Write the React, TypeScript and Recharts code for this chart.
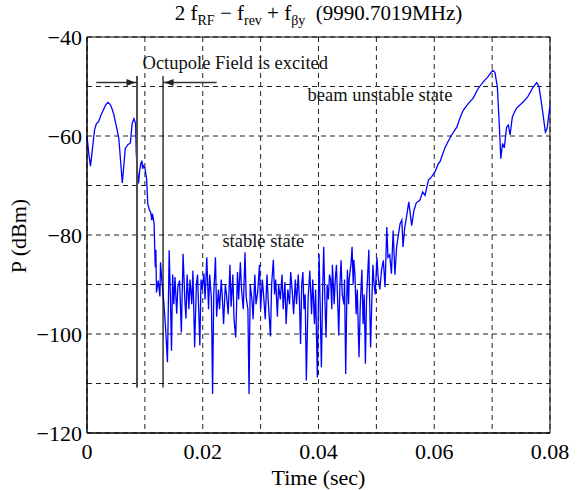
import React from 'react';
import {
  LineChart,
  Line,
  XAxis,
  YAxis,
  CartesianGrid,
  ReferenceArea,
  ReferenceLine,
  ReferenceDot,
  Label,
} from 'recharts';

// time axis (sec)
const timeSec = [
  0.0, 0.0003, 0.0006, 0.0009, 0.0013, 0.0016, 0.0018, 0.002, 0.0024, 0.0028,
  0.0032, 0.0036, 0.004, 0.0042, 0.0046, 0.0051, 0.0055, 0.0058, 0.0061, 0.0064,
  0.0066, 0.0071, 0.0075, 0.0078, 0.0081, 0.0084, 0.0085, 0.0087, 0.0089, 0.0091,
  0.0093, 0.0095, 0.0096, 0.0098, 0.01, 0.0103, 0.0105, 0.0108, 0.011, 0.0112,
  0.0113, 0.0116, 0.0117, 0.0118, 0.0119, 0.012, 0.0123, 0.0126, 0.0127, 0.013,
  0.0133, 0.0136, 0.0139, 0.0142, 0.0144, 0.0146, 0.0148, 0.015, 0.0152, 0.0155,
  0.0157, 0.016, 0.0163, 0.0166, 0.0169, 0.0171, 0.0173, 0.0176, 0.0178, 0.0181,
  0.0183, 0.0186, 0.0189, 0.0191, 0.0195, 0.0197, 0.0199, 0.0202, 0.0204, 0.0207,
  0.021, 0.0212, 0.0215, 0.0217, 0.0219, 0.0222, 0.0224, 0.0227, 0.0229, 0.0232,
  0.0234, 0.0236, 0.0239, 0.0241, 0.0244, 0.0247, 0.0249, 0.0252, 0.0254, 0.0257,
  0.026, 0.0262, 0.0265, 0.0267, 0.027, 0.0273, 0.0275, 0.0278, 0.028, 0.0282,
  0.0285, 0.0287, 0.029, 0.0292, 0.0295, 0.0298, 0.03, 0.0303, 0.0305, 0.0308,
  0.0311, 0.0313, 0.0317, 0.0319, 0.0322, 0.0324, 0.0326, 0.0329, 0.0331, 0.0334,
  0.0337, 0.0339, 0.0342, 0.0344, 0.0347, 0.035, 0.0352, 0.0355, 0.0357, 0.036,
  0.0362, 0.0365, 0.0367, 0.0369, 0.0371, 0.0373, 0.0375, 0.0377, 0.0379, 0.0382,
  0.0385, 0.0388, 0.039, 0.0393, 0.0395, 0.0398, 0.0401, 0.0403, 0.0405, 0.0407,
  0.0409, 0.0411, 0.0413, 0.0415, 0.0417, 0.0419, 0.0421, 0.0423, 0.0424, 0.0426,
  0.0427, 0.0429, 0.0431, 0.0433, 0.0435, 0.0437, 0.0439, 0.0441, 0.0444, 0.0445,
  0.0447, 0.0449, 0.045, 0.0452, 0.0453, 0.0456, 0.0458, 0.046, 0.0461, 0.0463,
  0.0465, 0.0467, 0.047, 0.0472, 0.0473, 0.0475, 0.0477, 0.0479, 0.0481, 0.0483,
  0.0485, 0.0487, 0.0488, 0.049, 0.0492, 0.0494, 0.0496, 0.0498, 0.0501, 0.0503,
  0.0506, 0.0509, 0.0512, 0.0515, 0.0518, 0.052, 0.0523, 0.0526, 0.0529, 0.0532,
  0.0535, 0.0538, 0.0541, 0.0544, 0.0546, 0.0549, 0.0552, 0.0556, 0.0561, 0.0565,
  0.0569, 0.0575, 0.058, 0.0584, 0.059, 0.0595, 0.0601, 0.0607, 0.061, 0.0613,
  0.0618, 0.0623, 0.063, 0.0639, 0.0644, 0.065, 0.0659, 0.0667, 0.0676, 0.0685,
  0.0693, 0.0701, 0.0705, 0.0709, 0.0712, 0.0715, 0.0718, 0.0721, 0.0725, 0.0728,
  0.0731, 0.0735, 0.0742, 0.0754, 0.0762, 0.0771, 0.0777, 0.0781, 0.0787, 0.0792,
  0.0795, 0.08,
];

// P (dBm), same order as timeSec
const powerDbm = [
  -60.0, -63.5, -66.1, -63.0, -58.8, -57.6, -57.3, -57.1, -55.8, -54.8,
  -53.8, -53.2, -53.6, -54.1, -55.5, -58.2, -60.5, -65.0, -69.5, -65.5,
  -62.5, -61.7, -61.4, -57.5, -56.5, -57.5, -63.2, -67.0, -69.6, -67.0,
  -65.6, -65.0, -66.6, -66.0, -66.4, -68.6, -73.7, -75.0, -75.4, -77.0,
  -75.7, -77.7, -82.7, -86.5, -83.0, -91.6, -89.2, -92.4, -85.5, -90.0,
  -94.0, -99.3, -105.7, -83.1, -92.0, -103.4, -88.0, -94.0, -88.5, -95.9,
  -90.5, -89.2, -99.7, -83.8, -93.0, -96.9, -88.0, -95.0, -89.0, -94.0,
  -87.2, -102.7, -90.0, -88.0, -102.3, -89.0, -91.0, -87.8, -93.0, -84.5,
  -95.0, -88.0, -93.0, -112.1, -92.0, -84.5, -96.5, -91.0, -95.0, -89.0,
  -93.0, -98.0, -90.0, -92.0, -96.0, -86.0, -94.5, -88.0, -97.0, -100.7,
  -87.5, -93.0, -85.5, -91.0, -95.0, -83.5, -92.5, -95.0, -112.1, -90.0,
  -93.0, -97.0, -88.0, -94.0, -91.5, -86.0, -95.0, -89.0, -92.0, -97.0,
  -88.0, -93.0, -100.5, -90.0, -85.0, -92.0, -89.0, -96.5, -90.0, -93.0,
  -88.0, -95.0, -89.5, -98.0, -91.0, -94.0, -87.5, -92.0, -96.0, -89.0,
  -94.0, -88.0, -93.0, -102.0, -90.0, -87.5, -95.0, -92.0, -109.4, -93.0,
  -87.2, -96.0, -89.0, -98.0, -91.0, -108.8, -83.8, -95.0, -106.7, -92.0,
  -82.4, -93.0, -100.7, -90.0, -93.0, -88.0, -89.0, -95.0, -86.0, -91.0,
  -94.0, -89.0, -86.0, -93.0, -100.3, -90.0, -85.1, -92.0, -94.0, -89.0,
  -108.1, -92.0, -87.0, -94.0, -89.0, -86.0, -82.4, -90.0, -85.0, -88.0,
  -96.0, -91.0, -104.7, -95.0, -92.0, -87.0, -98.0, -92.0, -106.0, -93.0,
  -88.0, -83.0, -91.0, -102.7, -94.0, -86.0, -90.0, -92.0, -84.5, -88.5,
  -91.0, -87.0, -85.1, -90.5, -78.4, -84.5, -84.0, -87.8, -79.1, -88.0,
  -82.4, -80.0, -77.7, -77.0, -82.4, -78.5, -76.4, -73.3, -78.1, -75.0,
  -73.5, -73.0, -71.3, -72.0, -68.9, -68.3, -67.3, -65.6, -65.2, -64.2,
  -62.5, -61.3, -59.8, -58.2, -56.5, -54.8, -53.4, -52.4, -50.4, -49.0,
  -48.0, -46.7, -47.2, -50.1, -56.8, -64.6, -61.5, -62.4, -58.2, -57.8,
  -59.8, -56.1, -54.4, -53.1, -52.0, -50.1, -49.2, -50.0, -54.8, -59.2,
  -58.5, -53.8,
];

const xTicks = [0, 0.01, 0.02, 0.03, 0.04, 0.05, 0.06, 0.07, 0.08];
const xTickLabels = ['0', '', '0.02', '', '0.04', '', '0.06', '', '0.08'];
const yTicks = [-120, -110, -100, -90, -80, -70, -60, -50, -40];
const yTickLabels = ['\u2212120', '', '\u2212100', '', '\u221280', '', '\u221260', '', '\u221240'];

// octupole on/off markers and the arrows pointing at them
const markerTimes = [0.00864, 0.01314];
const markerColors = ['#4d4d4d', '#000'];
const markerWidths = [2, 1.2];
const markerTop = -47.9;
const markerBottom = -110.8;
const arrowLevel = -49.2;
const arrowTails = [0.0016, 0.0224];
const arrowDirs = [1, -1];

const noteTexts = ['Octupole Field is excited', 'beam unstable state', 'stable state'];
const noteTimes = [0.0096, 0.0381, 0.0234];
const noteLevels = [-45.7, -52.1, -81.6];

const FONT = '"Liberation Serif", "Times New Roman", serif';

const data = timeSec.map((t, i) => ({ t, p: powerDbm[i] }));

const labelFor = (ticks: number[], labels: string[]) => (v: number) => {
  const i = ticks.findIndex((x) => Math.abs(x - v) < 1e-9);
  return i >= 0 ? labels[i] : '';
};

const sub: React.CSSProperties = { fontSize: 14, position: 'relative', top: 5 };

const App: React.FC = () => {
  return (
    <div
      style={{
        position: 'absolute',
        left: 0,
        top: 0,
        width: 580,
        height: 490,
        background: '#fff',
        fontFamily: FONT,
        color: '#000',
      }}
    >
      <div
        style={{
          position: 'absolute',
          left: 87,
          width: 463,
          top: 1,
          textAlign: 'center',
          fontSize: 21,
          lineHeight: '24px',
          whiteSpace: 'pre',
        }}
      >
        2 f<span style={sub}>RF</span> {'\u2212'} f<span style={sub}>rev</span> + f
        <span style={sub}>{'\u03b2y'}</span>
        {'  (9990.7019MHz)'}
      </div>
      <div
        style={{
          position: 'absolute',
          left: 19,
          top: 236,
          transform: 'translate(-50%, -50%) rotate(-90deg)',
          fontSize: 22,
          whiteSpace: 'nowrap',
        }}
      >
        P (dBm)
      </div>
      <LineChart
        width={580}
        height={490}
        data={data}
        margin={{ top: 37, right: 30, bottom: 0, left: 0 }}
      >
        <CartesianGrid stroke="#222" strokeDasharray="5 4" />
        <XAxis
          dataKey="t"
          type="number"
          domain={[0, 0.08]}
          ticks={xTicks}
          interval={0}
          height={57}
          tickLine={false}
          tickMargin={4}
          axisLine={{ stroke: '#000' }}
          tick={{ fill: '#000', fontSize: 22, fontFamily: FONT }}
          tickFormatter={labelFor(xTicks, xTickLabels)}
        >
          <Label
            value="Time (sec)"
            position="insideBottom"
            offset={5}
            style={{ fill: '#000', fontSize: 22, fontFamily: FONT }}
          />
        </XAxis>
        <YAxis
          type="number"
          domain={[-120, -40]}
          ticks={yTicks}
          interval={0}
          width={87}
          tickLine={false}
          tickSize={3}
          tickMargin={2}
          axisLine={{ stroke: '#000' }}
          tick={{ fill: '#000', fontSize: 22, fontFamily: FONT }}
          tickFormatter={labelFor(yTicks, yTickLabels)}
        />
        <ReferenceArea x1={0} x2={0.08} y1={-120} y2={-40} fill="none" stroke="#000" strokeWidth={1} />
        <Line
          type="linear"
          dataKey="p"
          stroke="#0000ff"
          strokeWidth={1.3}
          dot={false}
          isAnimationActive={false}
        />
        {markerTimes.map((m, i) => (
          <ReferenceLine
            key={`m${i}`}
            segment={[
              { x: m, y: markerTop },
              { x: m, y: markerBottom },
            ]}
            stroke={markerColors[i]}
            strokeWidth={markerWidths[i]}
          />
        ))}
        {markerTimes.map((m, i) => (
          <ReferenceLine
            key={`a${i}`}
            segment={[
              { x: arrowTails[i], y: arrowLevel },
              { x: m, y: arrowLevel },
            ]}
            stroke="#333"
            strokeWidth={1.5}
          />
        ))}
        {markerTimes.map((m, i) => (
          <ReferenceDot
            key={`h${i}`}
            x={m}
            y={arrowLevel}
            r={0}
            shape={(p: any) => {
              const d = arrowDirs[i];
              const tipX = p.cx - d * 1.5;
              return (
                <path
                  d={`M${tipX},${p.cy} L${tipX - d * 9},${p.cy - 3.5} L${tipX - d * 9},${p.cy + 3.5} Z`}
                  fill="#222"
                />
              );
            }}
          />
        ))}
        {noteTexts.map((txt, i) => (
          <ReferenceDot
            key={`n${i}`}
            x={noteTimes[i]}
            y={noteLevels[i]}
            r={0}
            shape={(p: any) => (
              <text
                x={p.cx}
                y={p.cy}
                dominantBaseline="middle"
                fontSize={18.5}
                fontFamily={FONT}
                fill="#111"
              >
                {txt}
              </text>
            )}
          />
        ))}
      </LineChart>
    </div>
  );
};

export default App;
